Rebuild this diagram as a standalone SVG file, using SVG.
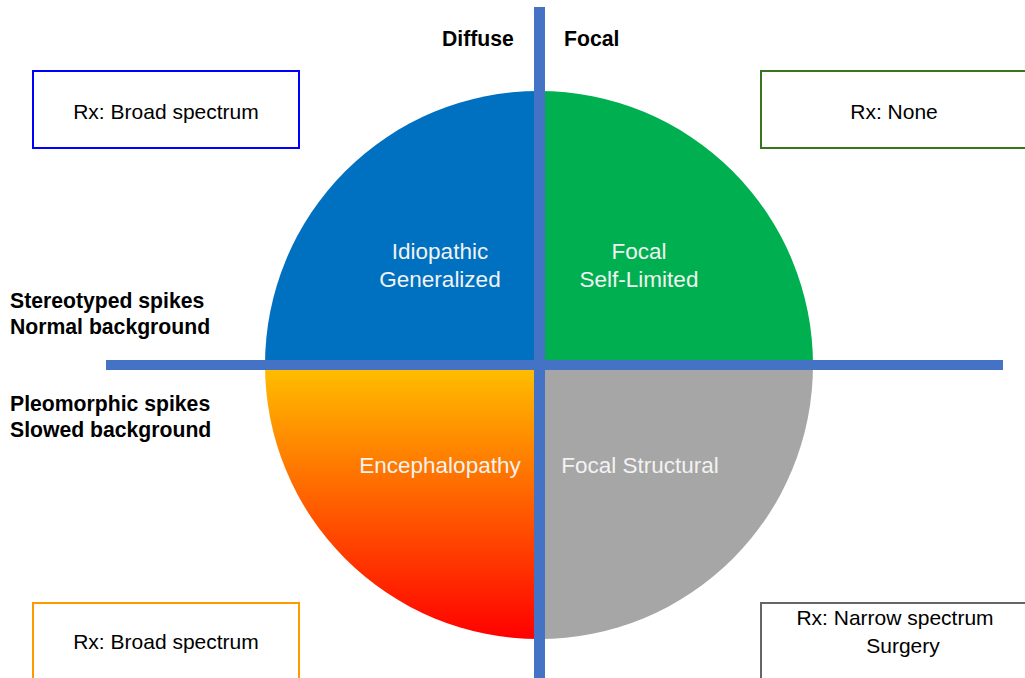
<svg xmlns="http://www.w3.org/2000/svg" width="1025" height="678" viewBox="0 0 1025 678">
  <defs>
    <linearGradient id="warm" x1="0" y1="0" x2="0" y2="1">
      <stop offset="0" stop-color="#FFC000"/>
      <stop offset="1" stop-color="#FF0000"/>
    </linearGradient>
    <style>
      .quad-label { font-family: "Liberation Sans", Arial, sans-serif; font-size: 22.5px; fill: #F2F2F2; text-anchor: middle; }
      .rx { font-family: "Liberation Sans", Arial, sans-serif; font-size: 21px; fill: #000; text-anchor: middle; }
      .axis-label { font-family: "Liberation Sans", Arial, sans-serif; font-size: 21.2px; font-weight: bold; fill: #000; }
      .box { fill: #FFFFFF; stroke-width: 2; }
      .axis { fill: #4472C4; }
    </style>
  </defs>

  <rect width="1025" height="678" fill="#FFFFFF"/>

  <!-- four quadrants of the circle -->
  <g id="idiopathic-generalized">
    <path d="M539,365 L265,365 A274,274 0 0 1 539,91 Z" fill="#0070C0"/>
    <text class="quad-label" x="440" y="259">Idiopathic</text>
    <text class="quad-label" x="440" y="287">Generalized</text>
  </g>
  <g id="focal-self-limited">
    <path d="M539,365 L539,91 A274,274 0 0 1 813,365 Z" fill="#00B050"/>
    <text class="quad-label" x="639" y="259">Focal</text>
    <text class="quad-label" x="639" y="287">Self-Limited</text>
  </g>
  <g id="encephalopathy">
    <path d="M539,365 L539,639 A274,274 0 0 1 265,365 Z" fill="url(#warm)"/>
    <text class="quad-label" x="440" y="473">Encephalopathy</text>
  </g>
  <g id="focal-structural">
    <path d="M539,365 L813,365 A274,274 0 0 1 539,639 Z" fill="#A6A6A6"/>
    <text class="quad-label" x="640" y="473">Focal Structural</text>
  </g>

  <!-- axes -->
  <g id="connectors">
    <rect class="axis" x="106" y="360" width="897" height="10"/>
    <rect class="axis" x="534" y="7" width="11" height="671"/>
  </g>

  <!-- axis labels -->
  <g id="label-diffuse">
    <text class="axis-label" x="442" y="46">Diffuse</text>
  </g>
  <g id="label-focal">
    <text class="axis-label" x="564" y="46">Focal</text>
  </g>
  <g id="label-stereotyped">
    <text class="axis-label" x="10" y="308">Stereotyped spikes</text>
    <text class="axis-label" x="10" y="334">Normal background</text>
  </g>
  <g id="label-pleomorphic">
    <text class="axis-label" x="10" y="411">Pleomorphic spikes</text>
    <text class="axis-label" x="10" y="437">Slowed background</text>
  </g>

  <!-- treatment boxes -->
  <g id="rx-top-left">
    <rect class="box" x="33" y="71" width="266" height="77" stroke="#0000FF"/>
    <text class="rx" x="166" y="119">Rx: Broad spectrum</text>
  </g>
  <g id="rx-top-right">
    <rect class="box" x="761" y="71" width="266" height="77" stroke="#38761D"/>
    <text class="rx" x="894" y="119">Rx: None</text>
  </g>
  <g id="rx-bottom-left">
    <rect class="box" x="33" y="603" width="266" height="77" stroke="#FF9900"/>
    <text class="rx" x="166" y="649">Rx: Broad spectrum</text>
  </g>
  <g id="rx-bottom-right">
    <rect class="box" x="761" y="603" width="266" height="77" stroke="#666666"/>
    <text class="rx" x="895" y="625">Rx: Narrow spectrum</text>
    <text class="rx" x="903" y="653">Surgery</text>
  </g>
</svg>
